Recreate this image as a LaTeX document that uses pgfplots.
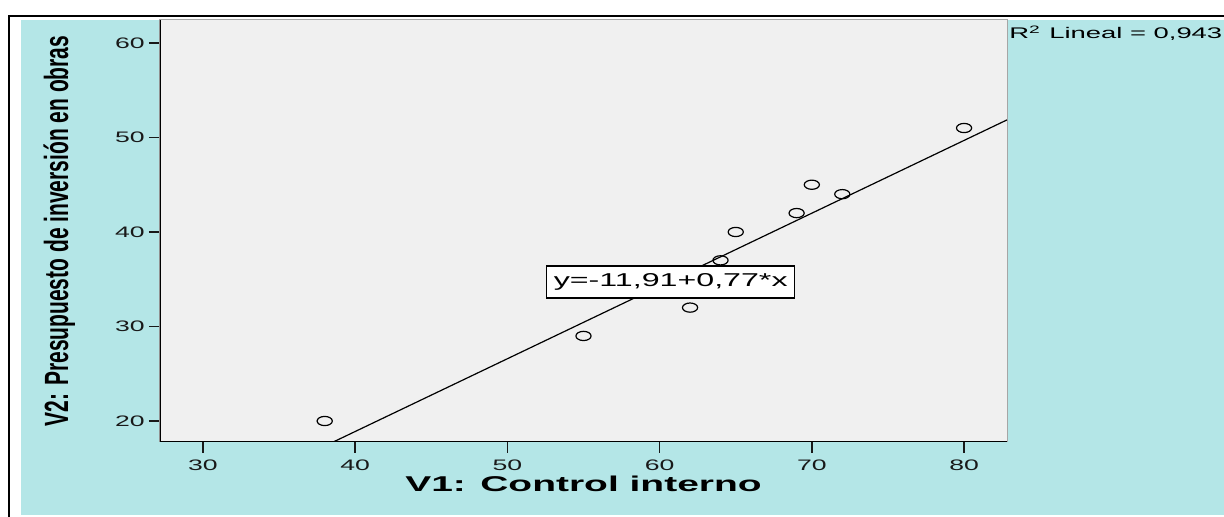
\documentclass[border=0pt]{standalone}
\usepackage{pgfplots}
\pgfplotsset{compat=1.18}
\usepackage{fontspec}
\setmainfont{Liberation Sans}
\definecolor{bgcyan}{RGB}{180,230,231}
\definecolor{plotgray}{RGB}{240,240,240}
\definecolor{tickgray}{RGB}{25,25,25}
\begin{document}
\begin{tikzpicture}
\useasboundingbox (-80pt,-37.5pt) rectangle (532pt,221pt);
\fill[white] (-80pt,-37.5pt) rectangle (532pt,221pt);
\fill[bgcyan] (-69.5pt,-36.5pt) rectangle (532pt,211pt);
\draw[black, line width=1.2pt] (-75.5pt,-37.5pt) -- (-75.5pt,213pt) -- (532pt,213pt);
\begin{axis}[
  at={(0pt,0pt)}, anchor=south west,
  scale only axis, width=423.5pt, height=211pt,
  xmin=27.18, xmax=82.82, ymin=17.78, ymax=62.43,
  xtick={30,40,50,60,70,80}, ytick={20,30,40,50,60},
  xtick pos=left, ytick pos=left,
  tick align=outside,
  major tick length=5.5pt,
  tick style={tickgray, line width=0.8pt},
  axis line style={gray!70, line width=0.5pt},
  axis background/.style={fill=plotgray},
  ticklabel style={font=\fontsize{7.6pt}{9pt}\selectfont, text=tickgray},
  xticklabel style={xscale=1.75},
  yticklabel style={xscale=1.75, inner sep=1pt},
  /pgf/number format/assume math mode=true,
  xlabel={\scalebox{1.82}[1]{\bfseries\fontsize{10.7pt}{12pt}\selectfont V1: Control interno}},
  xlabel style={at={(axis description cs:0.5,-0.1)}, anchor=center},
  ylabel={\scalebox{1}[1.6]{\bfseries\fontsize{10.5pt}{12pt}\selectfont V2: Presupuesto de inversión en obras}},
  ylabel style={at={(axis description cs:-0.119,0.5)}, anchor=center},
]
\addplot[black, line width=0.6pt] coordinates {(38.56,17.78) (82.82,51.86)};
\addplot[only marks, mark=o, mark size=2.3pt, mark options={xscale=1.65, line width=0.6pt, black}] coordinates {
  (38,20) (55,29) (62,32) (64,37) (65,40) (69,42) (70,45) (72,44) (80,51)
};
\draw[black, line width=1.3pt] (rel axis cs:0,1) -- (rel axis cs:0,0) -- (rel axis cs:1,0);
\node[draw=black, fill=white, line width=0.6pt, inner sep=0pt, minimum width=124pt, minimum height=16pt] at (axis cs:60.73,34.71) {\scalebox{1.73}[1]{\fontsize{9.3pt}{11pt}\selectfont y=-11,91+0,77*x}};
\end{axis}
\node[anchor=base west, inner sep=0pt] at (424.5pt,201.5pt) {\scalebox{1.78}[1]{\fontsize{7.7pt}{9pt}\selectfont R\textsuperscript{2} Lineal = 0,943}};
\end{tikzpicture}
\end{document}
